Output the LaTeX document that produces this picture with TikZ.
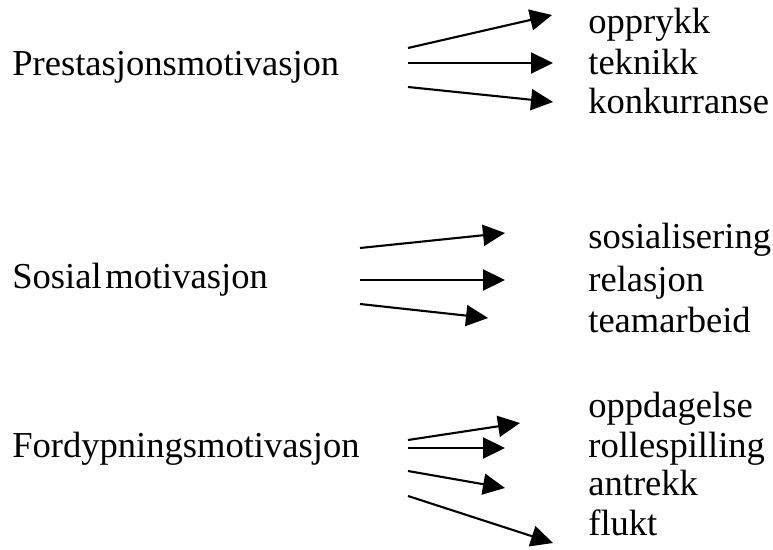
\documentclass[tikz,border=0pt]{standalone}
\usepackage{fontspec}
\setmainfont{Liberation Serif}
\usetikzlibrary{arrows.meta}
\usetikzlibrary{positioning}

\begin{document}
\begin{tikzpicture}[x=0.02cm, y=-0.02cm,
    every node/.style={inner sep=0pt, anchor=base west, font=\fontsize{20.8}{25}\selectfont},
    pil/.style={line width=1.2pt, -{Triangle[length=0.44cm, width=0.42cm]}}]
  \useasboundingbox (0,0) rectangle (773,550);
  % motivasjonstyper
  \node (prest) at (12,76) {Prestasjonsmotivasjon};
  \node (sosial) at (12,288) {Sosial\hspace{0.1em}motivasjon};
  \node (fordyp) at (12,457) {Fordypningsmotivasjon};
  % prestasjon
  \node (opprykk) at (588,34) {opprykk};
  \node (teknikk) at (588,75) {teknikk};
  \node (konk) at (588,114) {konkurranse};
  % sosial
  \node (sosialis) at (588,249) {sosialisering};
  \node (relasjon) at (588,291) {relasjon};
  \node (team) at (588,332) {teamarbeid};
  % fordypning
  \node (oppdag) at (588,417) {oppdagelse};
  \node (rolle) at (588,457) {rollespilling};
  \node (antrekk) at (588,495) {antrekk};
  \node (flukt) at (588,535) {flukt};
  % pilendepunkter
  \coordinate (p1a) at (408,48);  \coordinate (p1b) at (552,15);
  \coordinate (p2a) at (408,63);  \coordinate (p2b) at (553,63);
  \coordinate (p3a) at (408,87);  \coordinate (p3b) at (553,102);
  \coordinate (s1a) at (360,248); \coordinate (s1b) at (505,233);
  \coordinate (s2a) at (360,280); \coordinate (s2b) at (505,280);
  \coordinate (s3a) at (360,304); \coordinate (s3b) at (488,318);
  \coordinate (f1a) at (408,440); \coordinate (f1b) at (520,423);
  \coordinate (f2a) at (408,448); \coordinate (f2b) at (505,448);
  \coordinate (f3a) at (408,471); \coordinate (f3b) at (505,488);
  \coordinate (f4a) at (408,496); \coordinate (f4b) at (553,543);
  \foreach \fra/\til in {p1a/p1b, p2a/p2b, p3a/p3b, s1a/s1b, s2a/s2b, s3a/s3b,
      f1a/f1b, f2a/f2b, f3a/f3b, f4a/f4b} {
    \draw[pil] (\fra) -- (\til);
  }
\end{tikzpicture}
\end{document}
